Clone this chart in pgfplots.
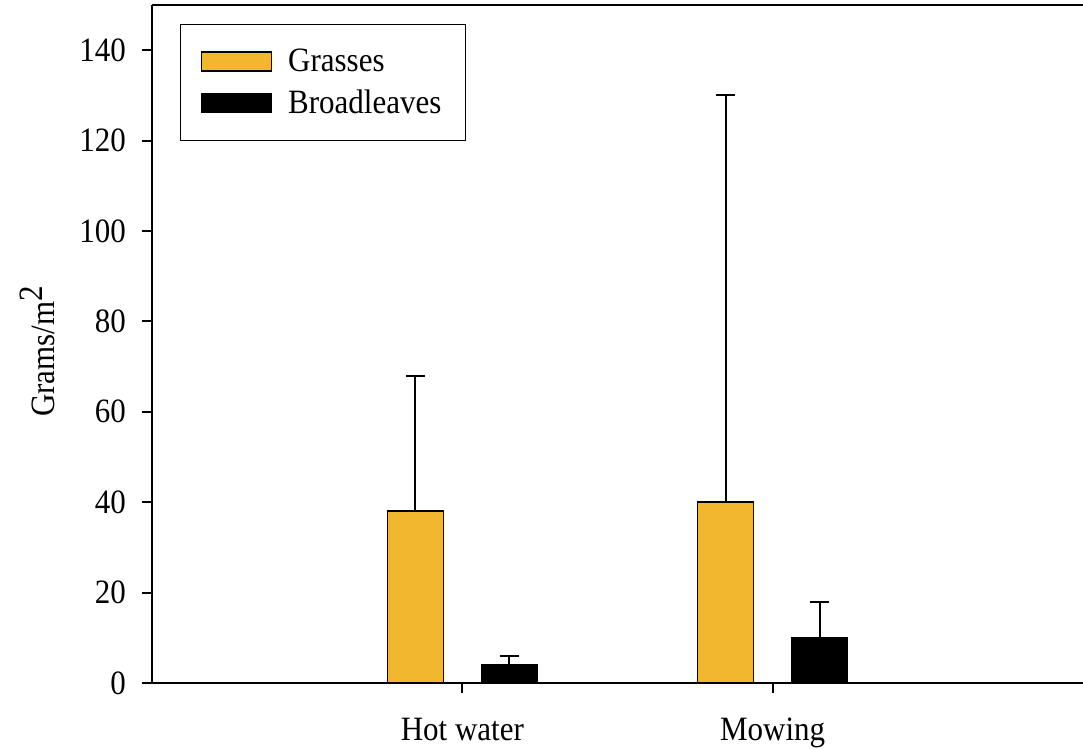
\documentclass[border=0pt]{standalone}
\usepackage{pgfplots}
\pgfplotsset{compat=1.18}
\usepackage{fontspec}
\setmainfont{Liberation Serif}
\definecolor{gold}{RGB}{241,183,47}
\newcommand{\tall}[1]{\scalebox{1}[1.1]{#1}}
\begin{document}
\begin{tikzpicture}
\begin{axis}[
  name=ax,
  scale only axis,
  width=465.5pt, height=339pt,
  xmin=0, xmax=3, ymin=0, ymax=150,
  axis x line*=bottom, axis y line*=left,
  xtick={1,2}, xticklabels={\tall{Hot water}, \tall{Mowing}},
  ytick={0,20,40,60,80,100,120,140},
  yticklabel={\tall{\pgfmathprintnumber{\tick}}},
  tick align=outside, major tick length=5pt,
  minor tick num=0,
  tick style={black, line width=1pt},
  axis line style={black, line width=1pt},
  font=\fontsize{15.5}{18}\selectfont,
  /pgf/number format/assume math mode=true,
  yticklabel style={xshift=-4.5pt},
  xticklabel style={yshift=-9pt},
  ylabel={\tall{Grams/m\raisebox{0.33em}{2}}},
  ylabel style={at={(axis description cs:-0.123,0.489)}, anchor=center, font=\fontsize{15.5}{18}\selectfont},
  ybar, bar width=28pt,
  legend cell align=left,
  legend style={at={(0.030,0.972)}, anchor=north west, draw=black, line width=0.75pt,
    inner xsep=10pt, inner ysep=10pt, row sep=3.7pt, column sep=6pt,
    font=\fontsize{15.5}{18}\selectfont},
  legend image code/.code={\draw[#1,/tikz/.cd,line width=0.75pt] (0pt,-4.75pt) rectangle (35pt,4.75pt);},
]
\addplot[ybar, bar shift=-23.5pt, fill=gold, draw=black, line width=0.75pt,
  error bars/.cd, y dir=plus, y explicit, error mark=|,
  error bar style={line width=1pt, black},
  error mark options={mark size=4.75pt, line width=1pt, black}]
  coordinates {(1,38) +- (0,30) (2,40) +- (0,90)};
\addlegendentry{\tall{Grasses}}
\addplot[ybar, bar shift=23.5pt, fill=black, draw=black, line width=0.75pt,
  error bars/.cd, y dir=plus, y explicit, error mark=|,
  error bar style={line width=1pt, black},
  error mark options={mark size=4.75pt, line width=1pt, black}]
  coordinates {(1,4) +- (0,2) (2,10) +- (0,8)};
\addlegendentry{\tall{Broadleaves}}
\draw[line width=1pt] (rel axis cs:0,1) -- (rel axis cs:1,1);
\end{axis}
\pgfresetboundingbox
\useasboundingbox ([shift={(-76pt,-33pt)}]ax.south west) rectangle ([shift={(0pt,2.5pt)}]ax.north east);
\end{tikzpicture}
\end{document}
